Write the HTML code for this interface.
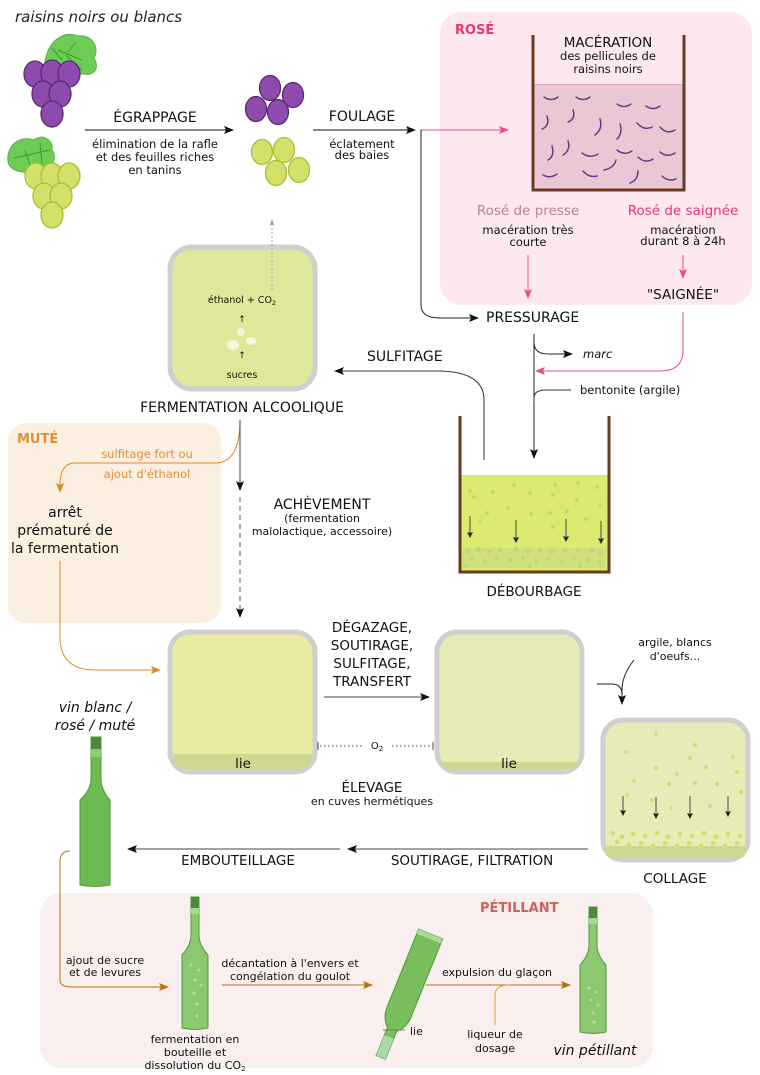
<!DOCTYPE html>
<html><head><meta charset="utf-8"><style>
html,body{margin:0;padding:0;background:#fff;}
svg{display:block;font-family:"DejaVu Sans","Liberation Sans",sans-serif;}
</style></head><body>
<svg width="760" height="1075" viewBox="0 0 760 1075" xmlns="http://www.w3.org/2000/svg">
<defs>
<marker id="ab" markerWidth="10" markerHeight="8" refX="9" refY="4" orient="auto" markerUnits="userSpaceOnUse"><path d="M0,0 L10,4 L0,8 L2,4z" fill="#111"/></marker>
<marker id="ap" markerWidth="10" markerHeight="8" refX="9" refY="4" orient="auto" markerUnits="userSpaceOnUse"><path d="M0,0 L10,4 L0,8 L2,4z" fill="#ee4d8a"/></marker>
<marker id="ao" markerWidth="10" markerHeight="8" refX="9" refY="4" orient="auto" markerUnits="userSpaceOnUse"><path d="M0,0 L10,4 L0,8 L2,4z" fill="#e08a1e"/></marker>
<marker id="ar" markerWidth="10" markerHeight="8" refX="9" refY="4" orient="auto" markerUnits="userSpaceOnUse"><path d="M0,0 L10,4 L0,8 L2,4z" fill="#b8700f"/></marker>
<marker id="ag" markerWidth="6" markerHeight="5" refX="5" refY="2.5" orient="auto" markerUnits="userSpaceOnUse"><path d="M0,0 L6,2.5 L0,5z" fill="#aaa"/></marker>
<marker id="as" markerWidth="6" markerHeight="6" refX="5" refY="3" orient="auto" markerUnits="userSpaceOnUse"><path d="M0,0 L6,3 L0,6 L1,3z" fill="#222"/></marker>
</defs>

<rect x="440" y="12" width="312" height="293" rx="22" fill="#fde8ef"/>
<rect x="8" y="423" width="213" height="200" rx="18" fill="#fbefe2"/>
<rect x="40" y="893" width="613" height="175" rx="22" fill="#f9efee"/>

<text x="15" y="22" font-size="15" font-style="italic" fill="#222">raisins noirs ou blancs</text>

<!-- purple bunch -->
<path d="M45,62 C48,42 62,30 78,36 C92,34 100,48 94,58 C100,68 94,76 84,74 C72,74 55,72 45,62z" fill="#6ccc55" stroke="#58b048"/>
<path d="M52,48 L62,60 M58,50 L82,60 M68,52 L76,42 M66,55 L82,70" stroke="#3a9a30" fill="none"/>
<g fill="#8e4aac" stroke="#5a2a70" stroke-width="1.3">
<ellipse cx="35" cy="74" rx="11" ry="13"/><ellipse cx="52" cy="73" rx="11" ry="13"/><ellipse cx="69" cy="74" rx="11" ry="13"/>
<ellipse cx="43" cy="94" rx="11" ry="13"/><ellipse cx="60" cy="94" rx="11" ry="13"/><ellipse cx="52" cy="114" rx="11" ry="13"/>
</g>
<!-- green bunch -->
<path d="M8,162 C6,145 20,135 34,140 C42,133 54,140 52,150 C58,158 52,170 40,170 C28,175 10,172 8,162z" fill="#6ccc55" stroke="#58b048"/>
<path d="M14,158 L50,150 M40,143 L42,165 M25,150 L30,165" stroke="#3a9a30" fill="none"/>
<g fill="#d4e06a" stroke="#a8c030" stroke-width="1.3">
<ellipse cx="36" cy="176" rx="11" ry="13"/><ellipse cx="52" cy="176" rx="11" ry="13"/><ellipse cx="69" cy="176" rx="11" ry="13"/>
<ellipse cx="44" cy="196" rx="11" ry="13"/><ellipse cx="61" cy="196" rx="11" ry="13"/><ellipse cx="52" cy="215" rx="11" ry="13"/>
</g>

<text x="155" y="122" font-size="14" text-anchor="middle" fill="#111">ÉGRAPPAGE</text>
<line x1="85" y1="130" x2="233" y2="130" stroke="#111" marker-end="url(#ab)"/>
<g font-size="11.5" text-anchor="middle" fill="#111"><text x="155" y="148">élimination de la rafle</text><text x="155" y="161">et des feuilles riches</text><text x="155" y="174">en tanins</text></g>

<g fill="#8e4aac" stroke="#5a2a70" stroke-width="1.3">
<ellipse cx="270" cy="88" rx="10.5" ry="12.5"/><ellipse cx="293" cy="95" rx="10.5" ry="12.5"/><ellipse cx="256" cy="109" rx="10.5" ry="12.5"/><ellipse cx="278" cy="112" rx="10.5" ry="12.5"/>
</g>
<g fill="#d4e06a" stroke="#a8c030" stroke-width="1.3">
<ellipse cx="262" cy="152" rx="10.5" ry="12.5"/><ellipse cx="284" cy="150" rx="10.5" ry="12.5"/><ellipse cx="276" cy="173" rx="10.5" ry="12.5"/><ellipse cx="299" cy="170" rx="10.5" ry="12.5"/>
</g>

<text x="362" y="121" font-size="14" text-anchor="middle" fill="#111">FOULAGE</text>
<line x1="313" y1="130" x2="415" y2="130" stroke="#111" marker-end="url(#ab)"/>
<g font-size="11.5" text-anchor="middle" fill="#111"><text x="362" y="148">éclatement</text><text x="362" y="159">des baies</text></g>

<!-- rosé -->
<text x="455" y="34" font-size="13" font-weight="bold" fill="#e8337a">ROSÉ</text>
<rect x="534" y="84" width="149" height="105" fill="#ebc7d5"/>
<line x1="534" y1="84.5" x2="683" y2="84.5" stroke="#e4aac0"/>
<path d="M533,35 V190 H684 V35" fill="none" stroke="#6b3a1e" stroke-width="3"/>
<text x="608" y="47" font-size="13.5" text-anchor="middle" fill="#111">MACÉRATION</text>
<g font-size="11.5" text-anchor="middle" fill="#111"><text x="608" y="60">des pellicules de</text><text x="608" y="73">raisins noirs</text></g>
<g fill="none" stroke="#6b3a8a" stroke-width="1.5" stroke-linecap="round">
<path d="M544,97 q7,5 14,0"/><path d="M576,97 q7,5 14,0"/><path d="M617,104 q7,5 14,0"/><path d="M646,106 q7,5 14,0"/>
<path d="M542,129 q8,-3 5,-13"/><path d="M568,122 q8,-3 5,-12"/><path d="M600,119 q3,10 -5,16"/><path d="M620,124 q3,9 -3,15"/><path d="M637,123 q7,8 15,4"/><path d="M660,127 q7,8 15,3"/>
<path d="M552,146 q3,10 -4,14"/><path d="M568,141 q3,9 -5,14"/><path d="M582,153 q8,6 16,1"/><path d="M617,150 q7,6 15,1"/><path d="M638,157 q7,7 15,2"/><path d="M660,152 q7,6 15,1"/>
<path d="M543,175 q7,4 14,-1"/><path d="M583,171 q6,7 14,5"/><path d="M604,170 q10,-2 12,-10"/><path d="M630,183 q8,-3 8,-12"/><path d="M662,176 q6,6 14,3"/>
</g>
<line x1="420" y1="130" x2="508" y2="130" stroke="#ee4d8a" marker-end="url(#ap)"/>
<path d="M421,130 V305 Q421,318 440,318 H478" fill="none" stroke="#222" marker-end="url(#ab)"/>

<text x="528" y="215" font-size="13.5" text-anchor="middle" fill="#b58098">Rosé de presse</text>
<text x="683" y="215" font-size="13.5" text-anchor="middle" fill="#e8337a">Rosé de saignée</text>
<g font-size="11.5" text-anchor="middle" fill="#111"><text x="528" y="234">macération très</text><text x="528" y="246">courte</text><text x="683" y="234">macération</text><text x="683" y="245">durant 8 à 24h</text></g>
<line x1="528" y1="255" x2="528" y2="298" stroke="#ee4d8a" marker-end="url(#ap)"/>
<line x1="683" y1="255" x2="683" y2="278" stroke="#ee4d8a" marker-end="url(#ap)"/>
<text x="683" y="299" font-size="13.5" text-anchor="middle" fill="#111">"SAIGNÉE"</text>
<text x="486" y="322" font-size="14" fill="#111">PRESSURAGE</text>
<path d="M683,312 V350 Q683,371 660,371 H536" fill="none" stroke="#ee4d8a" marker-end="url(#ap)"/>

<line x1="534" y1="334" x2="534" y2="458" stroke="#222" marker-end="url(#ab)"/>
<path d="M534,342 Q534,354 548,354 H572" fill="none" stroke="#222" marker-end="url(#ab)"/>
<text x="583" y="358" font-size="11.5" font-style="italic" fill="#111">marc</text>
<path d="M534,405 V398 Q534,390 546,390 H571" fill="none" stroke="#333"/>
<text x="580" y="394" font-size="11.5" fill="#111">bentonite (argile)</text>

<text x="367" y="361" font-size="14" fill="#111">SULFITAGE</text>
<path d="M484,460 V400 Q484,372 440,371 H335" fill="none" stroke="#333" marker-end="url(#ab)"/>

<!-- débourbage -->
<rect x="460" y="475" width="148" height="96" fill="#dde96f"/>
<g fill="#c8d86a">
<circle cx="470" cy="491" r="2"/><circle cx="474" cy="497" r="2"/><circle cx="493" cy="492" r="2"/><circle cx="514" cy="485" r="2"/><circle cx="530" cy="493" r="2"/><circle cx="555" cy="485" r="2"/><circle cx="578" cy="483" r="2"/><circle cx="597" cy="487" r="2"/><circle cx="553" cy="495" r="2"/><circle cx="577" cy="500" r="2"/><circle cx="600" cy="505" r="2"/><circle cx="508" cy="508" r="2"/><circle cx="487" cy="513" r="2"/><circle cx="531" cy="514" r="2"/><circle cx="550" cy="513" r="2"/><circle cx="567" cy="511" r="2"/><circle cx="480" cy="522" r="2"/><circle cx="586" cy="519" r="2"/><circle cx="553" cy="527" r="2"/>
</g>
<g fill="#c8d88a"><rect x="462" y="548" width="144" height="20" opacity="0.5"/></g>
<g fill="#c2d47e">
<circle cx="468" cy="551" r="2.3"/><circle cx="478" cy="549" r="2.3"/><circle cx="489" cy="552" r="2.3"/><circle cx="500" cy="550" r="2.3"/><circle cx="516" cy="549" r="2.3"/><circle cx="528" cy="552" r="2.3"/><circle cx="540" cy="550" r="2.3"/><circle cx="552" cy="552" r="2.3"/><circle cx="565" cy="550" r="2.3"/><circle cx="578" cy="551" r="2.3"/><circle cx="592" cy="550" r="2.3"/><circle cx="600" cy="553" r="2.3"/>
<circle cx="472" cy="559" r="2.3"/><circle cx="485" cy="561" r="2.3"/><circle cx="497" cy="558" r="2.3"/><circle cx="510" cy="560" r="2.3"/><circle cx="523" cy="558" r="2.3"/><circle cx="536" cy="561" r="2.3"/><circle cx="548" cy="559" r="2.3"/><circle cx="561" cy="561" r="2.3"/><circle cx="574" cy="558" r="2.3"/><circle cx="587" cy="560" r="2.3"/><circle cx="599" cy="562" r="2.3"/><circle cx="466" cy="566" r="2.3"/><circle cx="530" cy="566" r="2.3"/><circle cx="580" cy="566" r="2.3"/>
</g>
<g stroke="#222" stroke-width="0.8" marker-end="url(#as)"><line x1="470" y1="516" x2="470" y2="537"/><line x1="516" y1="520" x2="516" y2="542"/><line x1="566" y1="519" x2="566" y2="541"/><line x1="601" y1="521" x2="601" y2="543"/></g>
<path d="M460,416 V572 H609 V416" fill="none" stroke="#6b3a1e" stroke-width="3"/>
<text x="534" y="596" font-size="13.5" text-anchor="middle" fill="#111">DÉBOURBAGE</text>

<!-- fermentation -->
<rect x="170" y="247" width="145" height="142" rx="22" fill="#dfe89a" stroke="#cfcfcf" stroke-width="5"/>
<line x1="272" y1="290" x2="272" y2="220" stroke="#aaa" stroke-dasharray="2,2" marker-end="url(#ag)"/>
<text x="242" y="303" font-size="9.5" text-anchor="middle" fill="#111">éthanol + CO<tspan font-size="6.5" dy="2">2</tspan></text>
<text x="242" y="322" font-size="9" text-anchor="middle" fill="#111">↑</text>
<text x="242" y="358" font-size="9" text-anchor="middle" fill="#111">↑</text>
<circle cx="241" cy="332" r="4" fill="#f3f6dc"/><ellipse cx="233" cy="345" rx="6" ry="5" fill="#f3f6dc"/><ellipse cx="251" cy="341" rx="5" ry="4" fill="#f3f6dc"/>
<text x="242" y="378" font-size="9.5" text-anchor="middle" fill="#111">sucres</text>
<text x="242" y="412" font-size="14" text-anchor="middle" fill="#111">FERMENTATION ALCOOLIQUE</text>

<!-- muté -->
<text x="17" y="443" font-size="13" font-weight="bold" fill="#e09030">MUTÉ</text>
<g font-size="11.5" text-anchor="middle" fill="#e09030"><text x="147" y="458">sulfitage fort ou</text><text x="147" y="478">ajout d'éthanol</text></g>
<path d="M240,420 Q240,463 215,463 H75 Q60,463 60,485 V492" fill="none" stroke="#e08a1e" marker-end="url(#ao)"/>
<g font-size="14" text-anchor="middle" fill="#111"><text x="65" y="517">arrêt</text><text x="65" y="535">prématuré de</text><text x="65" y="553">la fermentation</text></g>
<path d="M60,561 V640 Q62,670 95,670 H160" fill="none" stroke="#e08a1e" marker-end="url(#ao)"/>

<line x1="240" y1="420" x2="240" y2="490" stroke="#444" marker-end="url(#ab)"/>
<line x1="240" y1="497" x2="240" y2="617" stroke="#555" stroke-dasharray="5,4" marker-end="url(#ab)"/>
<text x="322" y="509" font-size="14" text-anchor="middle" fill="#111">ACHÈVEMENT</text>
<g font-size="11" text-anchor="middle" fill="#111"><text x="322" y="522">(fermentation</text><text x="322" y="535">malolactique, accessoire)</text></g>

<!-- élevage -->
<rect x="170" y="632" width="145" height="140" rx="20" fill="#e8eba0" stroke="#cfcfcf" stroke-width="5"/>
<path d="M172.5,754 H312.5 Q312.5,769.5 295,769.5 H190 Q172.5,769.5 172.5,754z" fill="#d0d890"/>
<text x="243" y="768" font-size="13.5" text-anchor="middle" fill="#111">lie</text>
<rect x="437" y="632" width="145" height="140" rx="20" fill="#e8ebb5" stroke="#cfcfcf" stroke-width="5"/>
<path d="M439.5,762 H579.5 Q578,769.5 562,769.5 H457 Q441,769.5 439.5,762z" fill="#d0d890"/>
<text x="509" y="768" font-size="13.5" text-anchor="middle" fill="#111">lie</text>
<g font-size="13.5" text-anchor="middle" fill="#111"><text x="372" y="632">DÉGAZAGE,</text><text x="372" y="650">SOUTIRAGE,</text><text x="372" y="668">SULFITAGE,</text><text x="372" y="686">TRANSFERT</text></g>
<line x1="324" y1="697" x2="429" y2="697" stroke="#444" marker-end="url(#ab)"/>
<line x1="320" y1="746" x2="364" y2="746" stroke="#444" stroke-dasharray="1.5,2.5"/>
<line x1="392" y1="746" x2="432" y2="746" stroke="#444" stroke-dasharray="1.5,2.5"/>
<line x1="318" y1="742" x2="318" y2="750" stroke="#444"/><line x1="433" y1="742" x2="433" y2="750" stroke="#444"/>
<text x="377" y="749" font-size="10" text-anchor="middle" fill="#111">O<tspan font-size="7" dy="2">2</tspan></text>
<text x="372" y="792" font-size="13.5" text-anchor="middle" fill="#111">ÉLEVAGE</text>
<text x="372" y="805" font-size="11" text-anchor="middle" fill="#111">en cuves hermétiques</text>

<!-- collage -->
<g font-size="11" text-anchor="middle" fill="#111"><text x="675" y="646">argile, blancs</text><text x="675" y="660">d'oeufs...</text></g>
<path d="M634,660 Q622,675 622,690 V704" fill="none" stroke="#222" marker-end="url(#ab)"/>
<path d="M597,684 H612 Q622,684 622,695" fill="none" stroke="#222"/>
<rect x="603" y="720" width="145" height="140" rx="20" fill="#e8ebb5" stroke="#cfcfcf" stroke-width="5"/>
<path d="M605.5,846 H745.5 V852 Q745.5,857.5 740,857.5 H611 Q605.5,857.5 605.5,852z" fill="#d0d890"/>
<g fill="#cfe06a">
<circle cx="627" cy="795" r="2"/><circle cx="656" cy="734" r="2"/><circle cx="695" cy="745" r="2"/><circle cx="626" cy="752" r="2"/><circle cx="690" cy="758" r="2"/><circle cx="733" cy="757" r="2"/><circle cx="656" cy="768" r="2"/><circle cx="677" cy="774" r="2"/><circle cx="706" cy="767" r="2"/><circle cx="737" cy="772" r="2"/><circle cx="634" cy="781" r="2"/><circle cx="669" cy="784" r="2"/><circle cx="695" cy="783" r="2"/><circle cx="717" cy="784" r="2"/><circle cx="741" cy="792" r="2"/><circle cx="652" cy="800" r="2"/><circle cx="671" cy="808" r="2"/><circle cx="710" cy="806" r="2"/>
<circle cx="613" cy="833" r="2.3"/><circle cx="622" cy="837" r="2.3"/><circle cx="633" cy="834" r="2.3"/><circle cx="645" cy="836" r="2.3"/><circle cx="657" cy="833" r="2.3"/><circle cx="668" cy="837" r="2.3"/><circle cx="680" cy="834" r="2.3"/><circle cx="692" cy="836" r="2.3"/><circle cx="704" cy="833" r="2.3"/><circle cx="716" cy="837" r="2.3"/><circle cx="728" cy="834" r="2.3"/><circle cx="740" cy="836" r="2.3"/>
<circle cx="617" cy="842" r="2.3"/><circle cx="629" cy="845" r="2.3"/><circle cx="641" cy="843" r="2.3"/><circle cx="653" cy="846" r="2.3"/><circle cx="665" cy="843" r="2.3"/><circle cx="677" cy="846" r="2.3"/><circle cx="689" cy="843" r="2.3"/><circle cx="701" cy="846" r="2.3"/><circle cx="713" cy="843" r="2.3"/><circle cx="725" cy="846" r="2.3"/><circle cx="737" cy="843" r="2.3"/>
</g>
<g stroke="#222" stroke-width="0.8" marker-end="url(#as)"><line x1="623" y1="796" x2="623" y2="815"/><line x1="656" y1="797" x2="656" y2="818"/><line x1="690" y1="796" x2="690" y2="818"/><line x1="728" y1="796" x2="728" y2="816"/></g>
<text x="675" y="883" font-size="13.5" text-anchor="middle" fill="#111">COLLAGE</text>

<line x1="588" y1="849" x2="348" y2="849" stroke="#444" marker-end="url(#ab)"/>
<text x="472" y="865" font-size="13.5" text-anchor="middle" fill="#111">SOUTIRAGE, FILTRATION</text>
<line x1="340" y1="849" x2="128" y2="849" stroke="#444" marker-end="url(#ab)"/>
<text x="238" y="865" font-size="13.5" text-anchor="middle" fill="#111">EMBOUTEILLAGE</text>

<g font-size="14" font-style="italic" text-anchor="middle" fill="#111"><text x="95" y="712">vin blanc /</text><text x="95" y="730">rosé / muté</text></g>
<path d="M91,737 H101 V778 Q101,790 110,800 V885 Q95,888 80,885 V800 Q91,790 91,778z" fill="#6cbb50" stroke="#4f9a3a"/>
<rect x="91" y="737" width="10" height="12" fill="#4a8a3a"/>
<rect x="91" y="749" width="10" height="8" fill="#8acc78"/>

<text x="480" y="912" font-size="13" font-weight="bold" fill="#d06060">PÉTILLANT</text>
<path d="M70,851 Q60,851 60,862 V980 Q60,987 72,987 H168" fill="none" stroke="#b8700f" marker-end="url(#ar)"/>
<g font-size="11" text-anchor="middle" fill="#111"><text x="105" y="964">ajout de sucre</text><text x="105" y="976">et de levures</text></g>

<path d="M191,897 H199 V935 Q199,945 208,955 V1028 Q195,1031 182,1028 V955 Q191,945 191,935z" fill="#8cc870" stroke="#4f9a3a"/>
<rect x="191" y="897" width="8" height="11" fill="#4a8a3a"/><rect x="191" y="908" width="8" height="6" fill="#a8d898"/>
<g fill="#b8dc98"><circle cx="191" cy="965" r="1.5"/><circle cx="199" cy="970" r="1.5"/><circle cx="195" cy="980" r="1.5"/><circle cx="201" cy="985" r="1.5"/><circle cx="194" cy="993" r="1.5"/><circle cx="197" cy="1004" r="1.5"/><circle cx="197" cy="1016" r="1.5"/></g>
<g font-size="11" text-anchor="middle" fill="#111"><text x="195" y="1043">fermentation en</text><text x="195" y="1056">bouteille et</text><text x="195" y="1069">dissolution du CO<tspan font-size="7" dy="2">2</tspan></text></g>

<line x1="222" y1="985" x2="372" y2="985" stroke="#b8700f" marker-end="url(#ar)"/>
<g font-size="11" text-anchor="middle" fill="#111"><text x="290" y="967">décantation à l'envers et</text><text x="290" y="980">congélation du goulot</text></g>

<g transform="translate(410,985) rotate(22)">
<path d="M-13,-55 H13 V30 Q13,40 5,48 V78 H-5 V48 Q-13,40 -13,30z" fill="#78bf5c" stroke="#4f9a3a"/>
<rect x="-5" y="56" width="10" height="22" fill="#a8d8a8"/>
<rect x="-13" y="-55" width="26" height="5" fill="#a8d898"/>
</g>
<line x1="383" y1="1030" x2="405" y2="1030" stroke="#777"/>
<text x="410" y="1035" font-size="11" fill="#111">lie</text>

<line x1="426" y1="985" x2="570" y2="985" stroke="#b8700f" marker-end="url(#ar)"/>
<text x="497" y="976" font-size="11" text-anchor="middle" fill="#111">expulsion du glaçon</text>
<path d="M495,1025 V995 Q495,985 510,985" fill="none" stroke="#d8a040"/>
<g font-size="11" text-anchor="middle" fill="#111"><text x="495" y="1038">liqueur de</text><text x="495" y="1052">dosage</text></g>

<path d="M589,907 H597 V945 Q597,955 606,965 V1032 Q593,1035 580,1032 V965 Q589,955 589,945z" fill="#8cc870" stroke="#4f9a3a"/>
<rect x="589" y="907" width="8" height="11" fill="#4a8a3a"/><rect x="589" y="918" width="8" height="6" fill="#a8d898"/>
<g fill="#b8dc98"><circle cx="589" cy="988" r="1.5"/><circle cx="596" cy="992" r="1.5"/><circle cx="591" cy="1000" r="1.5"/><circle cx="598" cy="1005" r="1.5"/><circle cx="593" cy="1013" r="1.5"/><circle cx="594" cy="1022" r="1.5"/></g>
<text x="595" y="1055" font-size="14" font-style="italic" text-anchor="middle" fill="#111">vin pétillant</text>
</svg>
</body></html>
